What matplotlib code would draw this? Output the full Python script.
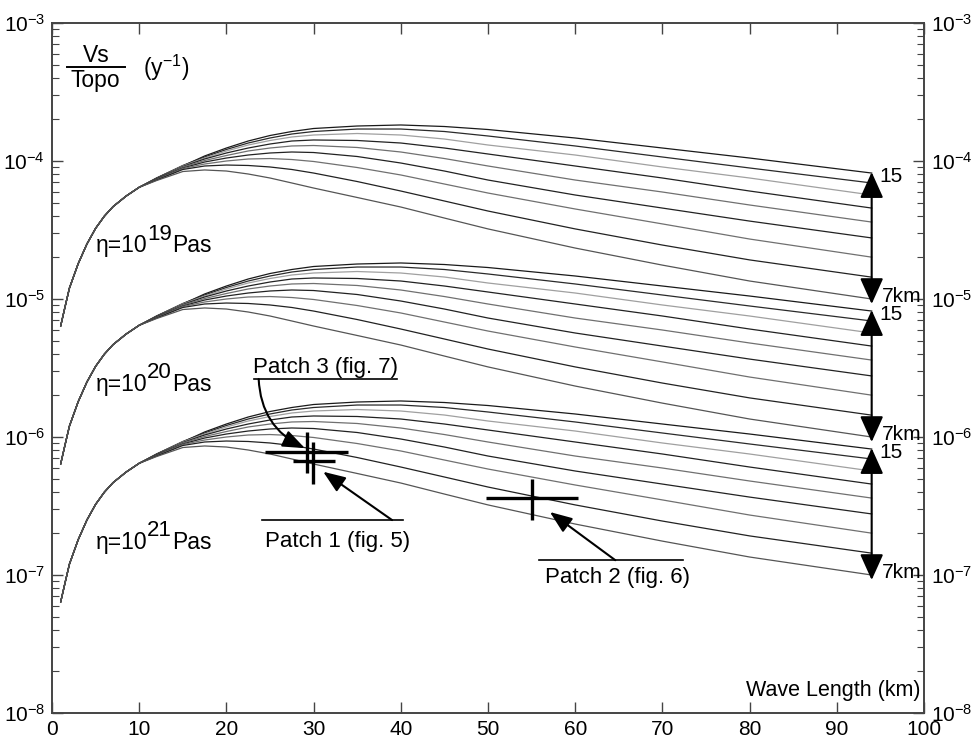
import numpy as np
import matplotlib
matplotlib.use("Agg")
import matplotlib.pyplot as plt
from matplotlib.ticker import LogLocator, NullLocator, LogFormatterSciNotation, NullFormatter
from matplotlib.lines import Line2D
from matplotlib.transforms import offset_copy

plt.rcParams['font.family'] = ['Liberation Sans', 'DejaVu Sans']
plt.rcParams['mathtext.fontset'] = 'custom'
plt.rcParams['mathtext.rm'] = 'Liberation Sans'
plt.rcParams['mathtext.it'] = 'Liberation Sans:italic'
plt.rcParams['mathtext.bf'] = 'Liberation Sans:bold'

# wave length (km), shared rising part of every curve
common_x = [1, 1.5, 2, 3, 4, 5, 6, 7, 8.5, 10]
common_v = [0.64, 0.88, 1.2, 1.8, 2.5, 3.25, 3.98, 4.67, 5.57, 6.45]

# wave length (km) where curves split by elastic thickness
split_x = [12, 15, 17.5, 20, 22.5, 25, 27.5, 30, 35, 40, 45, 50, 60, 70, 80, 94]

# Vs/Topo in units of 1e-5 /y for eta = 1e19 Pa s
curve_15km = [7.53, 9.20, 10.87, 12.42, 13.96, 15.30, 16.36, 17.20, 17.93, 18.24, 17.78, 16.91, 14.68, 12.42, 10.51, 8.18]
curve_14km = [7.53, 9.28, 10.69, 12.12, 13.50, 14.68, 15.69, 16.36, 17.05, 17.05, 16.36, 15.18, 12.85, 10.69, 8.90, 6.93]
curve_13km = [7.47, 9.20, 10.51, 11.82, 13.06, 14.08, 14.93, 15.43, 15.82, 15.43, 14.43, 13.06, 11.05, 9.05, 7.53, 5.67]
curve_12km = [7.47, 9.12, 10.34, 11.43, 12.42, 13.28, 13.96, 14.20, 14.08, 13.50, 12.42, 11.24, 9.20, 7.53, 6.06, 4.56]
curve_11km = [7.41, 9.05, 10.08, 10.96, 11.82, 12.42, 12.85, 12.95, 12.53, 11.62, 10.42, 9.20, 7.28, 5.96, 4.80, 3.61]
curve_10km = [7.41, 8.90, 9.83, 10.51, 11.05, 11.43, 11.62, 11.52, 10.78, 9.67, 8.46, 7.28, 5.67, 4.56, 3.67, 2.77]
curve_9km = [7.34, 8.82, 9.51, 10.0, 10.34, 10.42, 10.25, 9.92, 8.97, 7.92, 6.81, 5.86, 4.49, 3.50, 2.72, 2.01]
curve_8km = [7.28, 8.68, 9.20, 9.35, 9.28, 9.05, 8.68, 8.18, 7.10, 6.06, 5.13, 4.34, 3.22, 2.46, 1.92, 1.44]
curve_7km = [7.22, 8.39, 8.61, 8.46, 8.05, 7.53, 6.93, 6.37, 5.44, 4.64, 3.86, 3.22, 2.34, 1.76, 1.35, 1.00]

curves = [curve_15km, curve_14km, curve_13km, curve_12km, curve_11km,
          curve_10km, curve_9km, curve_8km, curve_7km]
line_colors = ['#1a1a1a', '#2a2a2a', '#a0a0a0', '#222222', '#707070',
               '#222222', '#707070', '#222222', '#555555']

viscosities = [1e19, 1e20, 1e21]
eta_exponents = ['19', '20', '21']
eta_label_y = [2.19e-5, 2.17e-6, 1.55e-7]

# patches: centre, x range, y range
patch_names = ['Patch 1 (fig. 5)', 'Patch 2 (fig. 6)', 'Patch 3 (fig. 7)']
patch_x = [29.9, 55.1, 29.2]
patch_xlo = [27.6, 49.8, 24.4]
patch_xhi = [32.5, 60.3, 33.9]
patch_y = [6.7e-7, 3.6e-7, 7.8e-7]
patch_ylo = [4.6e-7, 2.5e-7, 5.5e-7]
patch_yhi = [9.2e-7, 5.0e-7, 1.09e-6]

FS = 15

fig = plt.figure(figsize=(9.74, 7.37), dpi=100)
ax = fig.add_axes([52/974, 24/737, 872/974, 690/737])
ax.set_yscale('log')
ax.set_xlim(0, 100)
ax.set_ylim(1e-8, 1e-3)
renderer = fig.canvas.get_renderer()


def piece_text(x, y, pieces):
    # pieces: (string, raise in points, fontsize); written one after another
    dx = 0.0
    for s, rise, size in pieces:
        tr = offset_copy(ax.transData, fig=fig, x=dx, y=rise, units='points')
        t = ax.text(x, y, s, fontsize=size, va='baseline', ha='left', transform=tr)
        w = t.get_window_extent(renderer).width * 72.0 / fig.dpi
        dx += w


for eta in viscosities:
    scale = 1e-5 * 1e19 / eta
    for c, col in zip(curves, line_colors):
        xs = np.array(common_x + split_x)
        vs = np.array(common_v + c) * scale
        ax.plot(xs, vs, color=col, lw=0.9)
    # thickness arrow 15 -> 7 km
    top = curve_15km[-1] * scale * 1.015
    bot = curve_7km[-1] * scale * 0.92
    ax.annotate('', xy=(94, top), xytext=(94, bot),
                arrowprops=dict(arrowstyle='<|-|>,head_length=1.0,head_width=0.45',
                                mutation_scale=16, color='k', lw=1.5,
                                shrinkA=0, shrinkB=0))
    ax.text(94.9, top * 0.93, '15', fontsize=FS, va='center', ha='left')
    ax.text(95.2, bot * 1.13, '7km', fontsize=FS, va='center', ha='left')

for ex, yv in zip(eta_exponents, eta_label_y):
    piece_text(5.0, yv, [('η=10', 0, FS + 1.5), (ex, 9, FS + 1), ('Pas', 0, FS + 1.5)])

# patch crosses
for i in range(3):
    ax.plot([patch_xlo[i], patch_xhi[i]], [patch_y[i], patch_y[i]], color='k', lw=2.4,
            solid_capstyle='butt')
    ax.plot([patch_x[i], patch_x[i]], [patch_ylo[i], patch_yhi[i]], color='k', lw=2.4,
            solid_capstyle='butt')

arrow_kw = dict(arrowstyle='-|>,head_length=0.9,head_width=0.35', mutation_scale=15,
                color='k', lw=1.5, shrinkA=0, shrinkB=0)

# Patch 3 label (underlined, arrow from left end)
ax.text(31.4, 2.91e-6, patch_names[2], fontsize=16, ha='center', va='baseline')
ax.plot([23.2, 39.6], [2.63e-6, 2.63e-6], color='k', lw=1.2)
ax.annotate('', xy=(29.0, 8.3e-7), xytext=(23.7, 2.63e-6),
            arrowprops=dict(arrow_kw, connectionstyle='arc3,rad=0.3'))

# Patch 1 label (line above, arrow from right end)
ax.text(32.8, 1.6e-7, patch_names[0], fontsize=16, ha='center', va='baseline')
ax.plot([24.1, 40.3], [2.5e-7, 2.5e-7], color='k', lw=1.2)
ax.annotate('', xy=(31.1, 5.6e-7), xytext=(39.0, 2.5e-7), arrowprops=arrow_kw)

# Patch 2 label
ax.text(64.8, 8.75e-8, patch_names[1], fontsize=16, ha='center', va='baseline')
ax.plot([55.8, 72.4], [1.28e-7, 1.28e-7], color='k', lw=1.2)
ax.annotate('', xy=(57.1, 2.86e-7), xytext=(64.6, 1.28e-7), arrowprops=arrow_kw)

ax.text(99.6, 1.45e-8, 'Wave Length (km)', fontsize=15.5, ha='right', va='center')

# y label as a fraction
fig.text(96/974, 1 - 55/737, 'Vs', fontsize=16.5, ha='center', va='center')
fig.text(95/974, 1 - 80/737, 'Topo', fontsize=16.5, ha='center', va='center')
fig.add_artist(Line2D([67/974, 125/974], [1 - 67/737, 1 - 67/737], color='k', lw=1.4))
fig.text(143/974, 1 - 68/737, '(y$^{-1}$)', fontsize=16.5, ha='left', va='center')

# ticks
ax.set_xticks(np.arange(0, 101, 10))
ax.xaxis.set_minor_locator(NullLocator())
ax.yaxis.set_major_locator(LogLocator(base=10, numticks=10))
ax.yaxis.set_minor_locator(LogLocator(base=10, subs=np.arange(2, 10), numticks=20))
ax.yaxis.set_minor_formatter(NullFormatter())
ax.yaxis.set_major_formatter(LogFormatterSciNotation())
ax.tick_params(which='both', direction='in', top=True, right=True,
               labelright=True, labelsize=FS, color='#444444')
ax.tick_params(which='major', length=8, width=1.0)
ax.tick_params(which='minor', length=5, width=0.8)
ax.tick_params(axis='x', pad=5)
ax.tick_params(axis='y', which='major', pad=5)
for s in ax.spines.values():
    s.set_color('#444444')
    s.set_linewidth(1.4)

fig.savefig('out.png', dpi=100)
